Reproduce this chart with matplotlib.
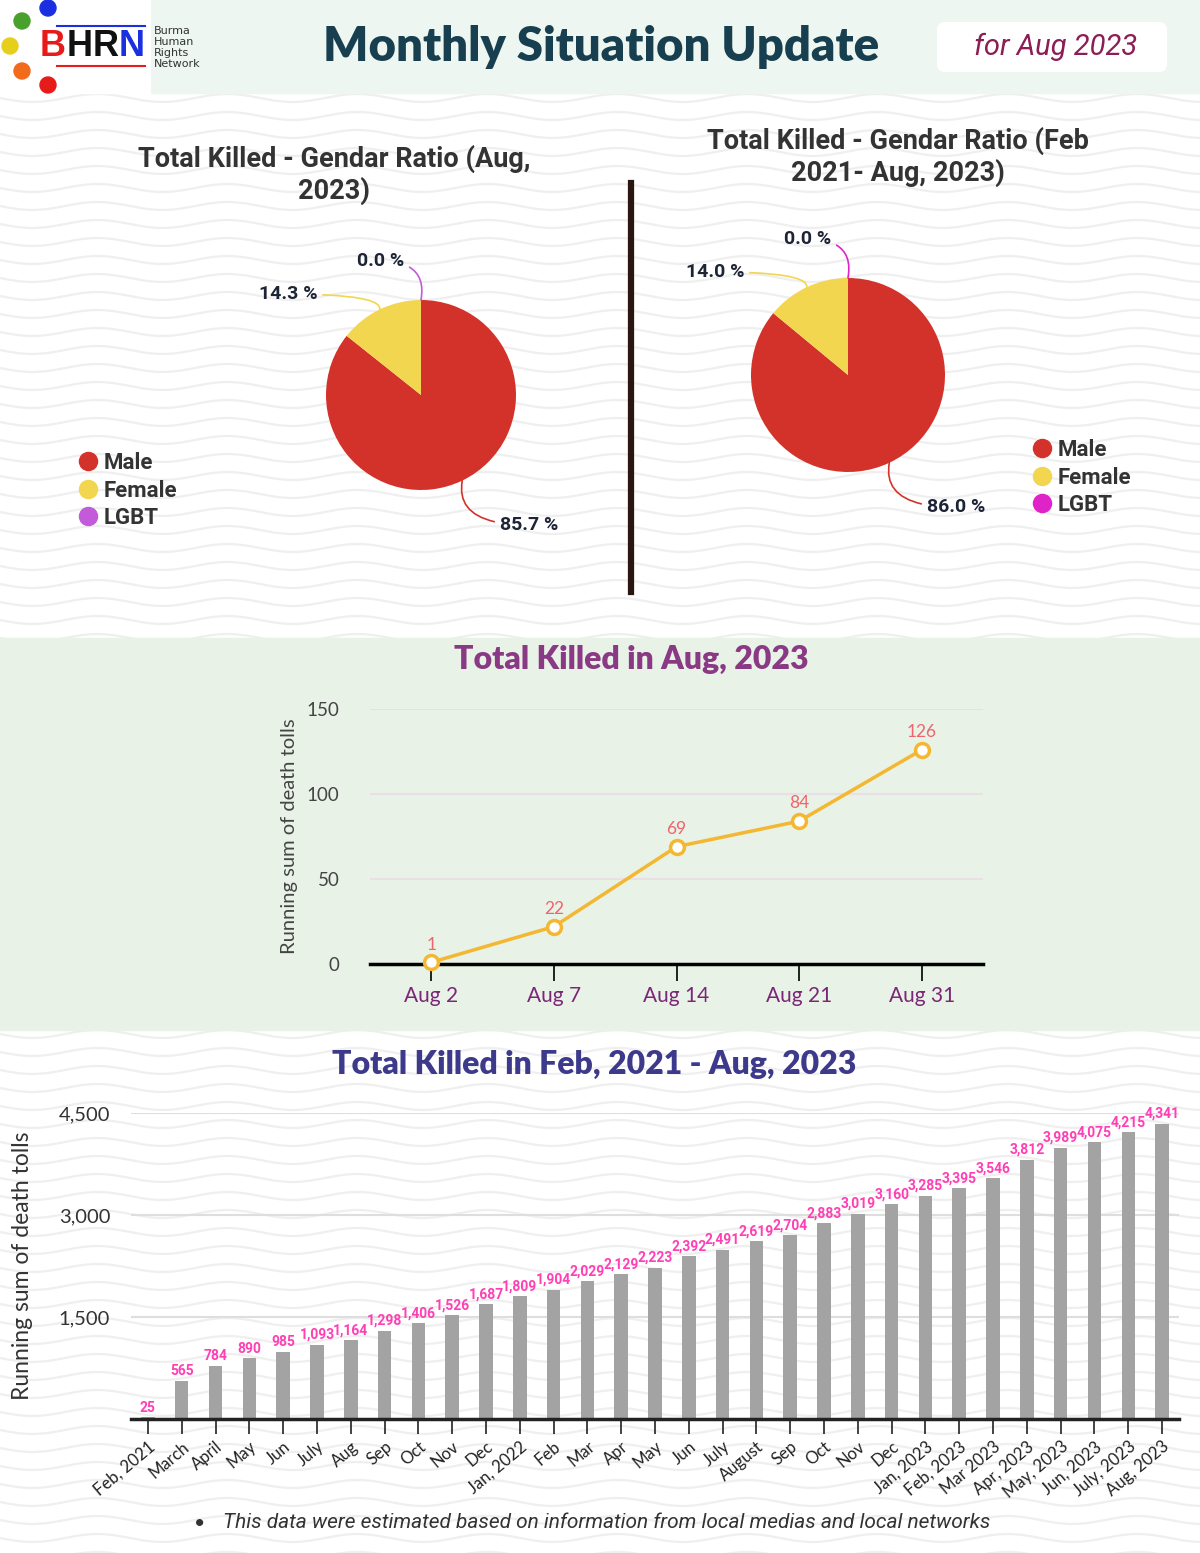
import numpy as np
import matplotlib
matplotlib.use('Agg')
import matplotlib.pyplot as plt
from matplotlib.patches import Rectangle, FancyBboxPatch, Circle
from matplotlib.lines import Line2D
from matplotlib.ticker import FuncFormatter

plt.rcParams['font.family'] = ['Lato', 'DejaVu Sans']

W, H = 1200, 1553

# ---- data ----
gender_labels = ['Male', 'Female', 'LGBT']
ratio_aug = [85.7, 14.3, 0.0]
ratio_all = [86.0, 14.0, 0.0]
colors_aug = ['#d3322a', '#f2d64f', '#c25ad9']
colors_all = ['#d3322a', '#f2d64f', '#e023c9']

aug_dates = ['Aug 2', 'Aug 7', 'Aug 14', 'Aug 21', 'Aug 31']
aug_running = [1, 22, 69, 84, 126]

months = ['Feb, 2021', 'March', 'April', 'May', 'Jun', 'July', 'Aug', 'Sep', 'Oct', 'Nov',
          'Dec', 'Jan, 2022', 'Feb', 'Mar', 'Apr', 'May', 'Jun', 'July', 'August', 'Sep',
          'Oct', 'Nov', 'Dec', 'Jan, 2023', 'Feb, 2023', 'Mar 2023', 'Apr, 2023', 'May, 2023',
          'Jun, 2023', 'July, 2023', 'Aug, 2023']
monthly_running = [25, 565, 784, 890, 985, 1093, 1164, 1298, 1406, 1526,
                   1687, 1809, 1904, 2029, 2129, 2223, 2392, 2491, 2619, 2704,
                   2883, 3019, 3160, 3285, 3395, 3546, 3812, 3989, 4075, 4215, 4341]

fig = plt.figure(figsize=(W / 100, H / 100), dpi=100)


def px_axes(x0, y0, x1, y1):
    ax = fig.add_axes([x0 / W, 1 - y1 / H, (x1 - x0) / W, (y1 - y0) / H])
    ax.set_facecolor('none')
    return ax


# background canvas in pixel coords
bg = fig.add_axes([0, 0, 1, 1])
bg.set_xlim(0, W)
bg.set_ylim(H, 0)
bg.axis('off')

# wavy pattern
xs = np.linspace(0, W, 600)
for y0 in range(-10, H + 20, 18):
    bg.plot(xs, y0 + 4 * np.sin(2 * np.pi * xs / 130), color='#efefef', lw=1.6, zorder=0)

# header band + logo
bg.add_patch(Rectangle((150, 0), 1050, 93, color='#edf6f0', zorder=1))
bg.add_patch(Rectangle((0, 0), 150, 93, color='white', zorder=1))
bg.add_patch(Rectangle((0, 638), W, 392, color='#e8f2e6', zorder=1))
bg.add_patch(FancyBboxPatch((937, 22), 230, 50, boxstyle='round,pad=0,rounding_size=8',
                            fc='white', ec='none', zorder=2))

for (cx, cy), c in zip([(48, 8), (22, 21), (10, 46), (22, 71), (48, 85)],
                       ['#1a2fe0', '#4aa02c', '#e6cf1a', '#f26a1b', '#e81b1b']):
    bg.add_patch(Circle((cx, cy), 8, color=c, zorder=3))
bg.plot([57, 145], [26, 26], color='#1a2fe0', lw=1.5, zorder=3)
bg.plot([57, 145], [66, 66], color='#e81b1b', lw=1.5, zorder=3)
for ch, x, c in zip('BHRN', [53, 80, 106, 132], ['#e81b1b', '#111111', '#111111', '#1a2fe0']):
    bg.text(x, 47, ch, ha='center', va='center', fontsize=26, fontweight='bold',
            family='Liberation Sans', color=c, zorder=4)
for i, w in enumerate(['Burma', 'Human', 'Rights', 'Network']):
    bg.text(154, 31 + i * 11, w, ha='left', va='center', fontsize=8, color='#333333',
            family='DejaVu Sans', zorder=4)

bg.text(601, 47, 'Monthly Situation Update', ha='center', va='center', fontsize=34,
        fontweight='heavy', color='#173f4f', zorder=4)
bg.text(1056, 47, 'for Aug 2023', ha='center', va='center', fontsize=21, style='italic',
        family='Roboto', color='#8c1d55', zorder=4)

# divider between pies
bg.plot([631, 631], [183, 592], color='#2b1510', lw=4.5, zorder=3)


# ---- pies ----
label_offsets = [(27, -32, 'left'), (-45, 11, 'right'), (-12, 28, 'right')]


def draw_pie(cx, cy, r, values, colors, title, tx, ty, leg_x, leg_y):
    ax = px_axes(cx - r, cy - r, cx + r, cy + r)
    wedges, _ = ax.pie(values, colors=colors, startangle=90, counterclock=False,
                       radius=1, wedgeprops=dict(linewidth=0))
    ax.set_xlim(-1, 1)
    ax.set_ylim(-1, 1)
    for w, v, c, (dx, dy, ha) in zip(wedges, values, colors, label_offsets):
        ang = np.deg2rad((w.theta1 + w.theta2) / 2)
        ax.annotate(f'{v:.1f} %', (np.cos(ang), np.sin(ang)), xytext=(dx, dy),
                    textcoords='offset points', ha=ha, va='center', fontsize=14,
                    fontweight='bold', family='Roboto', color='#1d2435',
                    annotation_clip=False,
                    arrowprops=dict(arrowstyle='-', color=c, lw=1.2, shrinkA=2, shrinkB=0,
                                    connectionstyle='angle3,angleA=0,angleB=80'))
    bg.text(tx, ty, title, ha='center', va='center', fontsize=19.5, fontweight='bold',
            family='Roboto', color='#333333', linespacing=1.2, zorder=4)
    handles = [Line2D([], [], ls='', marker='o', ms=13, mfc=c, mec=c) for c in colors]
    fig.legend(handles, gender_labels, loc='upper left', bbox_to_anchor=(leg_x / W, 1 - leg_y / H),
               frameon=False, handletextpad=0.2, labelspacing=0.25, borderpad=0,
               handlelength=1.0, prop=dict(family='Roboto', weight='bold', size=16),
               labelcolor='#333333')


draw_pie(421, 395, 95, ratio_aug, colors_aug, 'Total Killed - Gendar Ratio (Aug,\n2023)',
         334, 175, 66, 441)
draw_pie(848, 375, 97, ratio_all, colors_all, 'Total Killed - Gendar Ratio (Feb\n2021- Aug, 2023)',
         898, 157, 1020, 428)

# ---- line chart: Aug 2023 ----
bg.text(631, 659, 'Total Killed in Aug, 2023', ha='center', va='center', fontsize=23,
        fontweight='heavy', color='#8a3a85', zorder=4)
ax2 = px_axes(370, 709, 983, 964)
xl = np.arange(len(aug_dates))
ax2.plot(xl, aug_running, color='#f4b731', lw=2.5, marker='o', ms=10, mfc='white',
         mec='#f4b731', mew=2.5, clip_on=False, zorder=3)
for xi, v in zip(xl, aug_running):
    ax2.annotate(str(v), (xi, v), xytext=(0, 7), textcoords='offset points', ha='center',
                 va='bottom', color='#f0646c', fontsize=12.5)
ax2.set_xlim(-0.5, len(aug_dates) - 0.5)
ax2.set_ylim(0, 150)
ax2.set_yticks([0, 50, 100, 150])
ax2.set_xticks(xl)
ax2.set_xticklabels(aug_dates)
ax2.grid(axis='y', color='#eadfe6', lw=1.5)
ax2.set_axisbelow(True)
for s in ['left', 'right', 'top']:
    ax2.spines[s].set_visible(False)
ax2.spines['bottom'].set_linewidth(2.5)
ax2.spines['bottom'].set_color('black')
ax2.tick_params(axis='y', length=0, labelcolor='#444444', labelsize=13.5, pad=22)
ax2.tick_params(axis='x', length=12, width=1.2, color='black', labelcolor='#7b2677',
                labelsize=15, pad=4)
ax2.set_ylabel('Running sum of death tolls', fontsize=14.5, color='#444444')
ax2.yaxis.set_label_coords(-0.117, 0.5)

# ---- bar chart: Feb 2021 - Aug 2023 ----
bg.text(594, 1064, 'Total Killed in Feb, 2021 - Aug, 2023', ha='center', va='center',
        fontsize=23, fontweight='heavy', color='#3d3a8c', zorder=4)
ax3 = px_axes(131, 1113, 1179, 1419)
xb = np.arange(len(months))
bars = ax3.bar(xb, monthly_running, width=0.4, color='#a3a3a3', zorder=2)
for b, v in zip(bars, monthly_running):
    ax3.annotate(f'{v:,}', (b.get_x() + b.get_width() / 2, v), xytext=(0, 2),
                 textcoords='offset points', ha='center', va='bottom', fontsize=10,
                 fontweight='bold', family='Roboto', color='#ff3fb5', annotation_clip=False)
ax3.set_xlim(-0.5, len(months) - 0.5)
ax3.set_ylim(0, 4500)
ax3.set_yticks([1500, 3000, 4500])
ax3.yaxis.set_major_formatter(FuncFormatter(lambda v, p: f'{v:,.0f}'))
ax3.grid(axis='y', color='#dedede', lw=1.5)
ax3.set_axisbelow(True)
for s in ['left', 'right', 'top']:
    ax3.spines[s].set_visible(False)
ax3.spines['bottom'].set_linewidth(2.5)
ax3.spines['bottom'].set_color('#222222')
ax3.set_xticks(xb)
ax3.set_xticklabels(months, rotation=40, ha='right', rotation_mode='anchor')
ax3.tick_params(axis='y', length=0, labelcolor='#333333', labelsize=14.5, pad=15)
ax3.tick_params(axis='x', length=11, width=1.2, color='#222222', labelcolor='#222222',
                labelsize=12, pad=3)
ax3.set_ylabel('Running sum of death tolls', fontsize=16.5, color='#333333')
ax3.yaxis.set_label_coords((33 - 131) / 1048, 0.5)

# footnote
bg.text(200, 1523, '\u2022', ha='center', va='center', fontsize=14, color='#333333', zorder=4)
bg.text(223, 1523, 'This data were estimated based on information from local medias and local networks',
        ha='left', va='center', fontsize=15, style='italic', family='Roboto', color='#333333',
        zorder=4)

fig.savefig('out.png', dpi=100)
